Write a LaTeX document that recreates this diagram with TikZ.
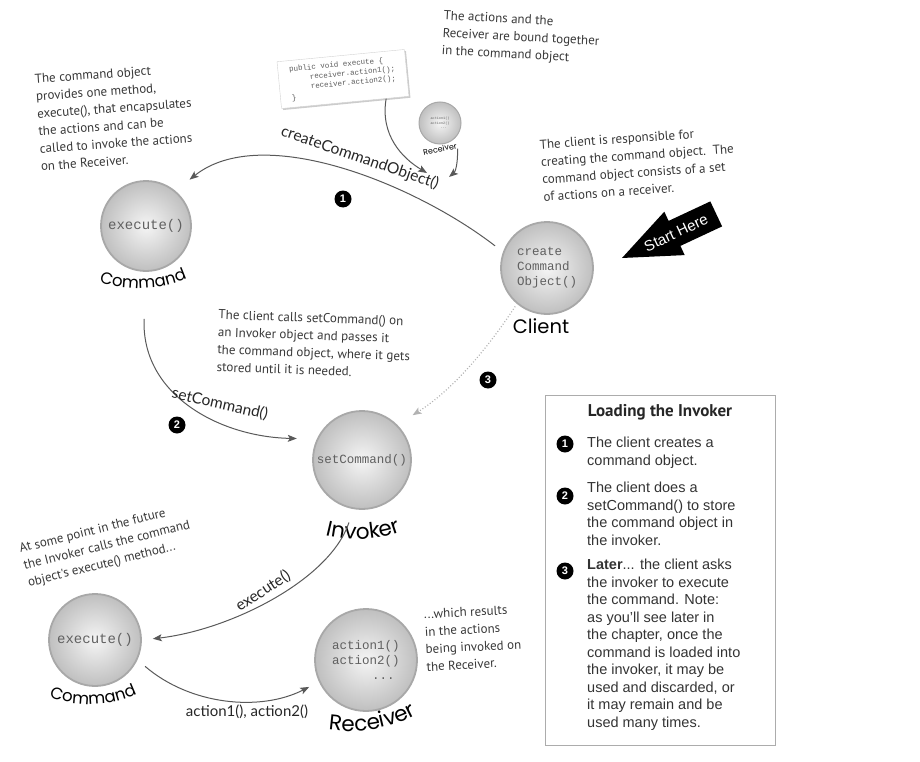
\documentclass[tikz,border=0pt]{standalone}
\usepackage{fontspec}
\setmainfont{Liberation Sans}
\newfontfamily\handf{PT Sans}
\newfontfamily\markf{Poppins}
\newfontfamily\lblf{Lato}
\newfontfamily\monof{Liberation Mono}
\usetikzlibrary{arrows.meta,decorations.text,shadows}
\tikzset{
  obj/.style={circle, shading=radial, inner color=gray!8, outer color=gray!50, draw=gray!68, line width=1.8pt, inner sep=0pt, font=\monof\fontsize{12.5}{15}\selectfont, text=gray!75!black, align=left},
  note/.style={font=\handf\fontsize{13}{17.5}\selectfont, text=black!78, align=left, inner sep=0pt},
  conn/.style={-{Stealth[length=9pt,width=7pt,inset=2pt]}, draw=gray!70!black, line width=1pt},
  arlabel/.style={font=\lblf\fontsize{15.5}{18}\selectfont, text=black!85, inner sep=0pt},
  badge/.style={circle, fill=black, text=white, font=\bfseries\fontsize{11}{11}\selectfont, inner sep=0pt, minimum size=17pt},
  boxtext/.style={font=\fontsize{14.5}{17.5}\selectfont, text=black!80, align=left, inner sep=0pt, anchor=north west},
  marklbl/.style={font=\markf\fontsize{20}{20}\selectfont, text=black, inner sep=0pt},
}
\begin{document}
\begin{tikzpicture}[x=1pt,y=-1pt]
\useasboundingbox (0,0) rectangle (920,762);

% free ends of the two small arrows
\coordinate (tip1) at (427,173);
\coordinate (tip2) at (449,177);

% ---------- objects ----------
\node[obj, minimum size=90pt, font=\monof\fontsize{14}{16}\selectfont] (cmdA) at (146,226) {execute()};
\node[obj, minimum size=92pt] (client) at (547,268) {create\\Command\\Object()};
\node[obj, minimum size=98pt] (invoker) at (362,460) {setCommand()};
\node[obj, minimum size=92pt, font=\monof\fontsize{14}{16}\selectfont] (cmdB) at (95,640) {execute()};
\node[obj, minimum size=102pt] (recv) at (366,660) {action1()\\action2()\\\hspace*{40pt}...};
\node[obj, minimum size=42pt, line width=1pt, font=\monof\fontsize{3.5}{4.5}\selectfont] (srecv) at (440,123) {action1()\\action2()\\\hspace*{10pt}...};

% curved object labels
\path[decorate, decoration={text along path, text={|\markf\fontsize{16.5}{16.5}\selectfont|Command}, text align=center}]
  (94,280) .. controls (124,292) and (162,292) .. (192,276);
\path[decorate, decoration={text along path, text={|\markf\fontsize{16.5}{16.5}\selectfont|Command}, text align=center}]
  (44,695) .. controls (74,708) and (112,708) .. (142,691);
\path[decorate, decoration={text along path, text={|\markf\fontsize{21.5}{21.5}\selectfont|Invoker}, text align=center}]
  (310,530) .. controls (342,543) and (384,543) .. (416,525);
\path[decorate, decoration={text along path, text={|\markf\fontsize{21.5}{21.5}\selectfont|Receiver}, text align=center}]
  (316,727) .. controls (350,736) and (394,731) .. (428,708);
\node[marklbl, font=\markf\fontsize{19.5}{19.5}\selectfont] (clientlbl) at (541,326) {Client};
\node[marklbl, font=\markf\fontsize{8}{8}\selectfont, rotate=12] (srlbl) at (440,149) {Receiver};

% code card
\node[draw=gray!35, fill=white, drop shadow={shadow xshift=1.5pt, shadow yshift=-1.5pt, opacity=0.4},
      rotate=5.5, minimum width=128pt, minimum height=47pt, align=left, text=gray!70!black,
      font=\monof\fontsize{7.5}{9.5}\selectfont, inner sep=4pt] (code) at (343,79)
  {public void execute \{\\\hspace*{20pt}receiver.action1();\\\hspace*{20pt}receiver.action2();\\\}};

\draw[conn] (code.-30) .. controls (380,135) and (402,158) .. (tip1);
\draw[conn] (srlbl.south east) .. controls (458,165) and (455,172) .. (tip2);

% main connectors
\draw[conn, shorten <=10pt, shorten >=18pt] (client.160) .. controls (415,184) and (262,122) .. (cmdA.50);
\draw[conn, shorten <=47pt, shorten >=20pt] (cmdA.south) .. controls (141,395) and (220,437) .. (invoker.155);
\draw[conn, dotted, line width=1.2pt, draw=gray!60, shorten <=3pt, shorten >=18pt] (client.-130) .. controls (480,360) and (445,395) .. (invoker.45);
\draw[conn, shorten <=14pt, shorten >=11pt] (invoker.-100) .. controls (330,580) and (230,630) .. (cmdB.east);
\draw[conn, shorten <=10pt, shorten >=11pt] (cmdB.-25) .. controls (190,705) and (260,712) .. (recv.-155);

% connector labels
\node[arlabel, rotate=-19] (cco) at (360,158) {createCommandObject()};
\node[arlabel, rotate=-13] (scl) at (220,404) {setCommand()};
\node[arlabel, rotate=33] (exl) at (263,591) {execute()};
\node[arlabel, font=\lblf\fontsize{15}{17}\selectfont] (acl) at (247,712) {action1(), action2()};

% badges
\node[badge] (b1) at (343,199) {1};
\node[badge] (b2) at (177,425) {2};
\node[badge] (b3) at (488,380) {3};

% start here arrow
\fill[black] (622,258) -- (684.7,255.1) -- (680.4,245.9) -- (722.1,226.4) -- (710.3,201.4) -- (668.6,220.9) -- (664.3,211.7) -- cycle;
\node[text=white, rotate=25, font=\fontsize{15}{15}\selectfont, inner sep=0pt] (start) at (676,233) {Start Here};

% annotations
\node[note, rotate=4] (n1) at (115,117) {The command object\\provides one method,\\execute(), that encapsulates\\the actions and can be\\called to invoke the actions\\on the Receiver.};
\node[note, rotate=-3] (n2) at (521,38) {The actions and the\\Receiver are bound together\\in the command object};
\node[note, rotate=4] (n3) at (638,164) {The client is responsible for\\creating the command object.\ \ The\\command object consists of a set\\of actions on a receiver.};
\node[note, rotate=-2] (n4) at (314,344) {The client calls setCommand() on\\an Invoker object and passes it\\the command object, where it gets\\stored until it is needed.};
\node[note, rotate=14] (n5) at (107,546) {At some point in the future\\the Invoker calls the command\\object's execute() method...};
\node[note, rotate=3] (n6) at (473,638) {...which results\\in the actions\\being invoked on\\the Receiver.};

% legend box
\node[draw=gray!65, line width=1pt, minimum width=230pt, minimum height=350pt, inner sep=0pt] (legend) at (660,570) {};
\node[font=\handf\bfseries\fontsize{17}{17}\selectfont, text=black!85] (ltitle) at (660,412) {Loading the Invoker};
\node[badge] (lb1) at (565,444) {1};
\node[boxtext] (lt1) at (587,437) {The client creates a\\command object.};
\node[badge] (lb2) at (565,496) {2};
\node[boxtext] (lt2) at (587,482) {The client does a\\setCommand() to store\\the command object in\\the invoker.};
\node[badge] (lb3) at (565,571) {3};
\node[boxtext] (lt3) at (587,559) {\textbf{Later}... the client asks\\the invoker to execute\\the command. Note:\\as you'll see later in\\the chapter, once the\\command is loaded into\\the invoker, it may be\\used and discarded, or\\it may remain and be\\used many times.};
\end{tikzpicture}
\end{document}
